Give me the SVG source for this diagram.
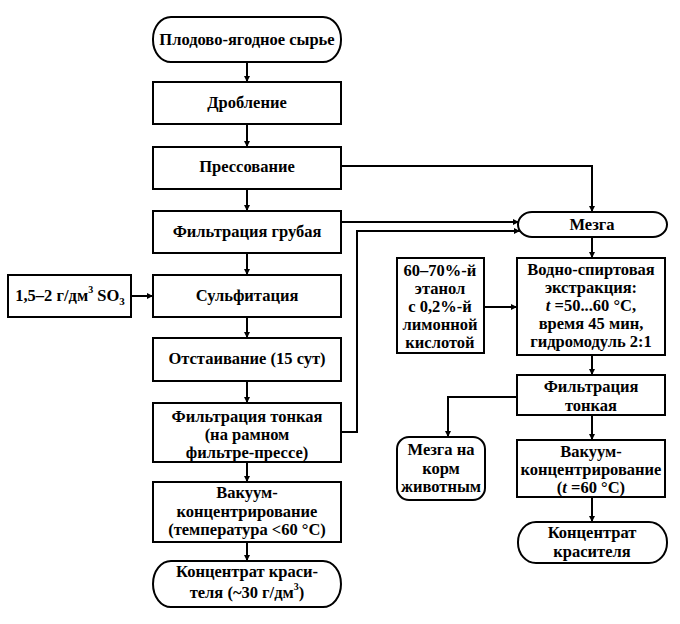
<svg xmlns="http://www.w3.org/2000/svg" width="680" height="624" viewBox="0 0 680 624">
<defs>
<style>
.b{fill:#fff;stroke:#000;stroke-width:2}
.t{font-family:"Liberation Serif","DejaVu Serif",serif;font-weight:bold;font-size:16.5px;fill:#000;text-anchor:middle}
.c{fill:none;stroke:#000;stroke-width:2}
</style>
<marker id="a" viewBox="0 0 10 10" refX="10" refY="5" markerWidth="8" markerHeight="6" markerUnits="userSpaceOnUse" orient="auto">
<path d="M0,0 L10,5 L0,10 z" fill="#000"/>
</marker>
</defs>
<rect width="680" height="624" fill="#fff"/>
<g id="connectors">
<path class="c" d="M247,62 V82" marker-end="url(#a)"/>
<path class="c" d="M247,124 V147" marker-end="url(#a)"/>
<path class="c" d="M247,189 V211" marker-end="url(#a)"/>
<path class="c" d="M247,253 V275" marker-end="url(#a)"/>
<path class="c" d="M247,317 V338" marker-end="url(#a)"/>
<path class="c" d="M247,381 V403" marker-end="url(#a)"/>
<path class="c" d="M247,462 V482" marker-end="url(#a)"/>
<path class="c" d="M247,542 V561" marker-end="url(#a)"/>
<path class="c" d="M131,296 H153" marker-end="url(#a)"/>
<path class="c" d="M341,166 H592 V212" marker-end="url(#a)"/>
<path class="c" d="M341,222 H519" marker-end="url(#a)"/>
<path class="c" d="M341,432 H357 V231 H520" marker-end="url(#a)"/>
<path class="c" d="M592,237 V258" marker-end="url(#a)"/>
<path class="c" d="M484,307 H517" marker-end="url(#a)"/>
<path class="c" d="M592,355 V375" marker-end="url(#a)"/>
<path class="c" d="M517,397 H448 V437" marker-end="url(#a)"/>
<path class="c" d="M592,415 V440" marker-end="url(#a)"/>
<path class="c" d="M592,497 V522" marker-end="url(#a)"/>
</g>
<g id="n1"><rect class="b" x="153" y="17" width="188" height="45" rx="18" ry="22"/><text class="t" x="247" y="45">Плодово-ягодное сырье</text></g>
<g id="n2"><rect class="b" x="153" y="82" width="188" height="42"/><text class="t" x="247" y="108">Дробление</text></g>
<g id="n3"><rect class="b" x="153" y="147" width="188" height="42"/><text class="t" x="247" y="172">Прессование</text></g>
<g id="n4"><rect class="b" x="153" y="211" width="188" height="42"/><text class="t" x="247" y="237">Фильтрация грубая</text></g>
<g id="n5"><rect class="b" x="8" y="275" width="123" height="42"/><text class="t" x="70" y="301">1,5–2 г/дм<tspan font-size="10" dy="-8">3</tspan><tspan dy="8"> SO</tspan><tspan font-size="11" dy="4">3</tspan></text></g>
<g id="n6"><rect class="b" x="153" y="275" width="188" height="42"/><text class="t" x="247" y="301">Сульфитация</text></g>
<g id="n7"><rect class="b" x="153" y="338" width="188" height="43"/><text class="t" x="247" y="364">Отстаивание (15 сут)</text></g>
<g id="n8"><rect class="b" x="153" y="403" width="188" height="59"/><text class="t" x="247" y="422">Фильтрация тонкая</text><text class="t" x="247" y="440">(на рамном</text><text class="t" x="247" y="458">фильтре-прессе)</text></g>
<g id="n9"><rect class="b" x="153" y="482" width="188" height="60"/><text class="t" x="247" y="498">Вакуум-</text><text class="t" x="247" y="517">концентрирование</text><text class="t" x="247" y="535">(температура &lt;60 °C)</text></g>
<g id="n10"><rect class="b" x="153" y="561" width="188" height="46" rx="18" ry="23"/><text class="t" x="247" y="577">Концентрат краси-</text><text class="t" x="247" y="598">теля (~30 г/дм<tspan font-size="10" dy="-8">3</tspan><tspan dy="8">)</tspan></text></g>
<g id="n11"><rect class="b" x="518" y="212" width="149" height="25" rx="14" ry="12.5"/><text class="t" x="592" y="230">Мезга</text></g>
<g id="n12"><rect class="b" x="397" y="258" width="87" height="95"/><text class="t" x="440" y="276">60–70%-й</text><text class="t" x="440" y="294">этанол</text><text class="t" x="440" y="312">с 0,2%-й</text><text class="t" x="440" y="330">лимонной</text><text class="t" x="440" y="348">кислотой</text></g>
<g id="n13"><rect class="b" x="517" y="258" width="148" height="97"/><text class="t" x="591" y="275">Водно-спиртовая</text><text class="t" x="591" y="293">экстракция:</text><text class="t" x="591" y="311"><tspan font-style="italic">t</tspan> =50...60 °C,</text><text class="t" x="591" y="329">время 45 мин,</text><text class="t" x="591" y="347">гидромодуль 2:1</text></g>
<g id="n14"><rect class="b" x="517" y="375" width="148" height="40"/><text class="t" x="591" y="392">Фильтрация</text><text class="t" x="591" y="411">тонкая</text></g>
<g id="n15"><rect class="b" x="397" y="437" width="88" height="63" rx="12" ry="12"/><text class="t" x="441" y="455">Мезга на</text><text class="t" x="441" y="474">корм</text><text class="t" x="441" y="492">животным</text></g>
<g id="n16"><rect class="b" x="517" y="440" width="148" height="57"/><text class="t" x="591" y="457">Вакуум-</text><text class="t" x="591" y="475">концентрирование</text><text class="t" x="591" y="493">(<tspan font-style="italic">t</tspan> =60 °C)</text></g>
<g id="n17"><rect class="b" x="518" y="522" width="149" height="41" rx="18" ry="20"/><text class="t" x="592" y="538">Концентрат</text><text class="t" x="592" y="557">красителя</text></g>
</svg>
